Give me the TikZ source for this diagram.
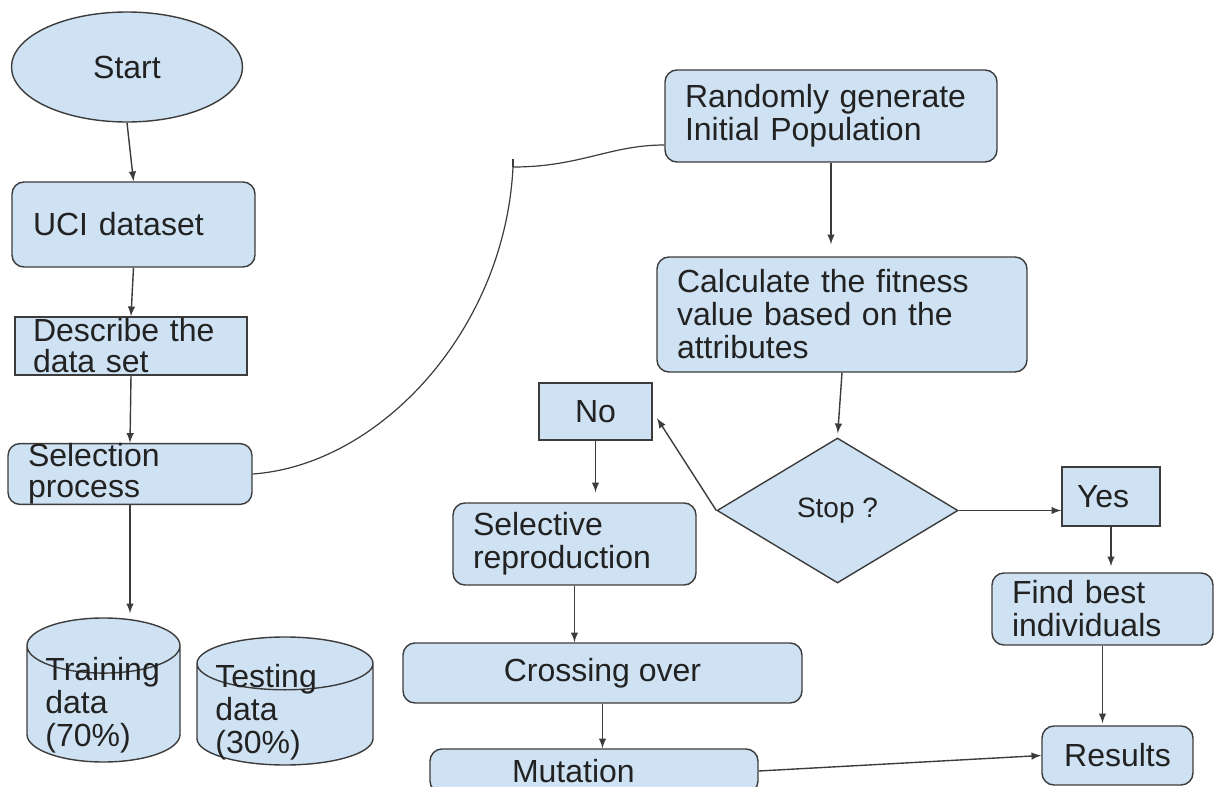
\documentclass[tikz,border=0pt]{standalone}
\usepackage{fontspec}
\setmainfont{Liberation Sans}
\usetikzlibrary{arrows, shapes.geometric}
\definecolor{boxblue}{HTML}{CFE2F3}
\definecolor{toplight}{HTML}{E2EDF8}
\definecolor{linegray}{HTML}{3C3C3C}
\definecolor{textgray}{HTML}{222222}
\tikzset{
  flow/.style = {draw=linegray, fill=boxblue, text=textgray, line width=0.7pt,
    inner ysep=0pt, align=left, font=\fontsize{16}{16.5}\selectfont},
  rbox/.style = {flow, rounded corners=6pt},
  sbox/.style = {flow},
  tightlines/.style = {font=\fontsize{16}{15.5}\selectfont},
  dbase/.style = {flow, cylinder, shape border rotate=90, inner sep=0pt, anchor=shape center,
    cylinder uses custom fill, cylinder body fill=boxblue, cylinder end fill=toplight},
  dbtext/.style = {anchor=west, inner sep=0pt, align=left, text=textgray,
    font=\fontsize{16}{16.5}\selectfont},
  arr/.style = {-latex, draw=linegray, line width=0.7pt},
  link/.style = {draw=linegray, line width=0.6pt}
}

\begin{document}
\begin{tikzpicture}[x=0.5pt, y=-0.5pt]
\useasboundingbox (0,0) rectangle (1217,787);
\clip (0,0) rectangle (1217,787);

% left column
\node [flow, ellipse, align=center, minimum width=115.5pt, minimum height=55pt] (start) at (127,67) {Start};
\node [rbox, minimum width=121.5pt, minimum height=42.5pt, inner xsep=10.5pt, text width=100.5pt] (uci) at (133.5,224.5) {UCI dataset};
\node [sbox, tightlines, minimum width=116pt, minimum height=29pt, inner xsep=9pt, text width=98pt] (describe) at (131,346) {Describe the\\data set};
\node [rbox, tightlines, minimum width=122pt, minimum height=29pt, inner xsep=10pt, text width=102pt] (selection) at (130,474) {Selection\\process};
\node [dbase, aspect=0.36, minimum width=76.5pt, minimum height=72pt] (training) at (103.5,690) {\rule{76.5pt}{0pt}};
\node [dbtext] (trainingtext) at (45,705) {Training\\data\\(70\%)};
\node [dbase, aspect=0.3, minimum width=88pt, minimum height=64pt] (testing) at (285,701) {\rule{88pt}{0pt}};
\node [dbtext] (testingtext) at (215,712) {Testing\\data\\(30\%)};

% genetic loop
\node [rbox, minimum width=166pt, minimum height=46pt, inner xsep=10pt, text width=146pt] (random) at (831,116) {Randomly generate\\Initial Population};
\node [rbox, minimum width=185pt, minimum height=57.5pt, inner xsep=10pt, text width=165pt] (fitness) at (842,314.5) {Calculate the fitness\\value based on the\\attributes};
\node [flow, diamond, align=center, inner sep=0pt, minimum width=120.5pt, minimum height=72.5pt, font=\fontsize{14}{16}\selectfont] (stop) at (837.5,510.5) {Stop ?};
\node [sbox, align=center, minimum width=56.5pt, minimum height=28.5pt] (no) at (595.5,411.5) {No};
\node [sbox, minimum width=49pt, minimum height=29.5pt, inner xsep=7.5pt, text width=34pt] (yes) at (1111,496.5) {Yes};
\node [rbox, minimum width=121.5pt, minimum height=41pt, inner xsep=10pt, text width=101.5pt] (reproduce) at (574.5,544) {Selective\\reproduction};
\node [rbox, align=center, minimum width=199.5pt, minimum height=30pt] (crossing) at (602.5,673) {Crossing over};
\node [rbox, minimum width=164pt, minimum height=22pt, inner xsep=41pt, text width=82pt] (mutation) at (594,771) {Mutation};
\node [rbox, minimum width=110.5pt, minimum height=36pt, inner xsep=10pt, text width=90.5pt] (best) at (1102.5,609) {Find best\\individuals};
\node [rbox, align=center, minimum width=75.5pt, minimum height=29.5pt] (results) at (1117.5,755.5) {Results};

\coordinate (bend) at (513,167);

% connectors
\draw [arr] (start.south) -- (uci.north);
\draw [arr] (uci.south) -- (describe.north);
\draw [arr] (describe.south) -- (selection.north);
\draw [arr, shorten >=2pt] (selection.south) -- (selection.south |- training.north);
\draw [link] (selection.east) .. controls (380,465) and (505,330) .. (bend);
\draw [link] (bend) -- ++(0,-8);
\draw [link] (bend) .. controls (580,167) and (610,145) .. ([yshift=-14.5pt]random.west);
\draw [arr, shorten >=6pt] (random.south) -- (random.south |- fitness.north);
\draw [arr, shorten >=2pt] (fitness.south) -- (stop.north);
\draw [arr, shorten >=4pt] (stop.west) -- (no.east);
\draw [arr, shorten >=5pt] (no.south) -- (no.south |- reproduce.north);
\draw [arr] (reproduce.south) -- (reproduce.south |- crossing.north);
\draw [arr] (crossing.south) -- (crossing.south |- mutation.north);
\draw [arr] (stop.east) -- (stop.east -| yes.west);
\draw [arr, shorten >=3pt] (yes.south) -- (yes.south |- best.north);
\draw [arr, shorten >=1pt] (best.south) -- (best.south |- results.north);
\draw [arr] (mutation.east) -- (results.west);
\end{tikzpicture}
\end{document}
